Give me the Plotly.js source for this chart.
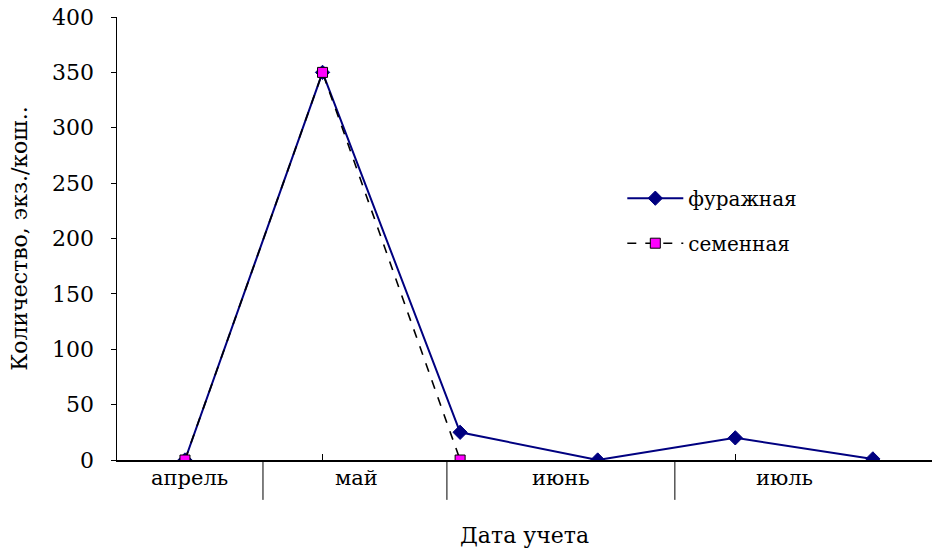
<!DOCTYPE html>
<html>
<head>
<meta charset="utf-8">
<script src="https://cdn.plot.ly/plotly-3.0.1.min.js"></script>
<style>html,body{margin:0;padding:0;background:#fff;}#chart{width:932px;height:548px;}</style>
</head>
<body>
<div id="chart"></div>
<script>
// Data
var pointIndex = [0, 1, 2, 3, 4, 5];
var furazhnaya = [0, 350, 25, 0, 20, 1];
var semennayaIndex = [0, 1, 2];
var semennaya = [0, 350, 0];
var monthLabels = ['апрель', 'май', 'июнь', 'июль'];
var monthCenters = [0.036, 1.25, 2.73, 4.36];
var monthSeparators = [0.567, 1.904, 3.561];
var yTicks = [0, 50, 100, 150, 200, 250, 300, 350, 400];

var FONT = 'DejaVu Serif, Liberation Serif, serif';

var traces = [
  {
    x: pointIndex, y: furazhnaya, name: 'фуражная', type: 'scatter', mode: 'lines+markers',
    line: {color: '#000080', width: 2},
    marker: {symbol: 'diamond', size: 11, color: '#000080', line: {color: '#000080', width: 1}},
    legendgroup: 'a'
  },
  {
    x: semennayaIndex, y: semennaya, name: 'семенная', type: 'scatter', mode: 'lines+markers',
    line: {color: '#000000', width: 1.6, dash: 'dash'},
    marker: {symbol: 'square', size: 10, color: '#FF00FF', line: {color: '#000000', width: 1}},
    legendgroup: 'b'
  }
];

var shapes = monthSeparators.map(function (v) {
  return {type: 'line', xref: 'x', yref: 'paper', x0: v, x1: v, y0: 0, y1: -0.09,
          line: {color: '#000', width: 1}};
});

var annotations = monthLabels.map(function (t, i) {
  return {text: t, x: monthCenters[i], y: 0, xref: 'x', yref: 'paper', yanchor: 'middle',
          yshift: -18, showarrow: false, font: {family: FONT, size: 21, color: '#000'}};
});

var layout = {
  width: 932, height: 548,
  margin: {l: 117, r: 0, t: 17, b: 88},
  paper_bgcolor: '#fff', plot_bgcolor: '#fff',
  font: {family: FONT, size: 21, color: '#000'},
  xaxis: {
    range: [-0.494, 5.43], showgrid: false, zeroline: false,
    showline: true, linecolor: '#000', linewidth: 2,
    tickvals: [1, 4], ticktext: ['', ''], ticks: 'inside', ticklen: 6, tickcolor: '#000', tickwidth: 1,
    title: {text: 'Дата учета', font: {family: FONT, size: 22}, standoff: 62}
  },
  yaxis: {
    range: [0, 400], tickvals: yTicks, showgrid: false, zeroline: false,
    showline: true, linecolor: '#000', linewidth: 1.5,
    ticks: 'outside', ticklen: 5, tickcolor: '#000', tickwidth: 1,
    ticklabelstandoff: 12,
    tickfont: {family: FONT, size: 22},
    title: {text: 'Количество, экз./кош..', font: {family: FONT, size: 22}, standoff: 18}
  },
  showlegend: true,
  legend: {x: 0.62, y: 0.635, xanchor: 'left', yanchor: 'top', traceorder: 'grouped',
           tracegroupgap: 16, itemwidth: 56, font: {family: FONT, size: 20}, bgcolor: 'rgba(0,0,0,0)'},
  shapes: shapes,
  annotations: annotations
};

Plotly.newPlot('chart', traces, layout, {displayModeBar: false, staticPlot: true});
</script>
</body>
</html>
